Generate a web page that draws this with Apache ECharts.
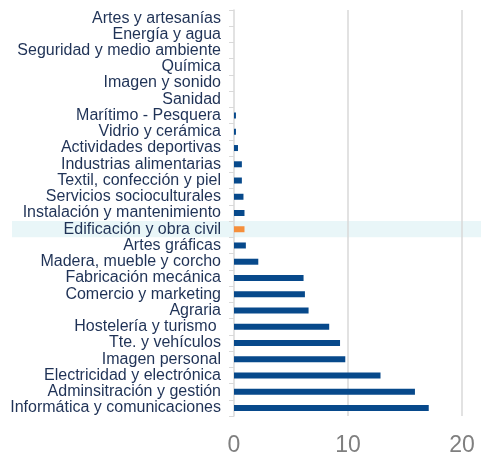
<!DOCTYPE html>
<html>
<head>
<meta charset="utf-8">
<script src="https://cdn.jsdelivr.net/npm/echarts@6/dist/echarts.min.js"></script>
<style>
  html, body { margin: 0; padding: 0; background: #fff; }
  #chart { width: 481px; height: 457px; }
</style>
</head>
<body>
<div id="chart"></div>
<script>
// categories, top to bottom
const familias = [
    "Artes y artesanías",
    "Energía y agua",
    "Seguridad y medio ambiente",
    "Química",
    "Imagen y sonido",
    "Sanidad",
    "Marítimo - Pesquera",
    "Vidrio y cerámica",
    "Actividades deportivas",
    "Industrias alimentarias",
    "Textil, confección y piel",
    "Servicios socioculturales",
    "Instalación y mantenimiento",
    "Edificación y obra civil",
    "Artes gráficas",
    "Madera, mueble y corcho",
    "Fabricación mecánica",
    "Comercio y marketing",
    "Agraria",
    "Hostelería y turismo ",
    "Tte. y vehículos",
    "Imagen personal",
    "Electricidad y electrónica",
    "Adminsitración y gestión",
    "Informática y comunicaciones",
];

const valores = [
    0, 0, 0, 0, 0, 0, 0.17, 0.17, 0.35, 0.69, 0.69, 0.83, 0.92,
    0.92, 1.04, 2.13, 6.1, 6.22, 6.54, 8.35, 9.3, 9.76, 12.85, 15.87, 17.08,
];

const destacada = "Edificación y obra civil";
const xTicks = [0, 10, 20];

const azul = "#07498b";
const naranja = "#f58f3c";

const chart = echarts.init(document.getElementById("chart"));

chart.setOption({
    animation: false,
    grid: { left: 234, right: 0, top: 10, bottom: 39, containLabel: false },
    xAxis: {
        type: "value",
        min: 0,
        max: 21.4,
        interval: 10,
        axisLine: { show: false },
        axisTick: { show: false },
        axisLabel: {
            color: "#7f7f7f",
            fontSize: 23,
            fontFamily: "Liberation Sans",
            margin: 18,
            formatter: (v) => (xTicks.includes(v) ? String(v) : ""),
        },
        splitLine: {
            show: true,
            showMinLine: false,
            showMaxLine: false,
            lineStyle: { color: "#d9d9d9", width: 1.5 },
        },
    },
    yAxis: {
        type: "category",
        inverse: true,
        data: familias,
        axisLine: { show: true, lineStyle: { color: "#d9d9d9", width: 1.5 } },
        axisTick: { show: true, length: 5, lineStyle: { color: "#d9d9d9" } },
        axisLabel: {
            color: "#1f3256",
            fontSize: 16,
            fontFamily: "Liberation Sans",
            margin: 13,
            interval: 0,
        },
    },
    series: [
        {
            type: "bar",
            barWidth: 6,
            z: 3,
            data: valores.map((v, i) => ({
                value: v,
                itemStyle: { color: familias[i] === destacada ? naranja : azul },
            })),
        },
    ],
});

// light band behind the highlighted category, label included
const yc = chart.convertToPixel({ yAxisIndex: 0 }, destacada);
const step = chart.convertToPixel({ yAxisIndex: 0 }, familias[1]) -
    chart.convertToPixel({ yAxisIndex: 0 }, familias[0]);
chart.setOption({
    graphic: [
        {
            type: "rect",
            z: -10,
            silent: true,
            shape: { x: 12, y: yc - step / 2, width: 469, height: step },
            style: { fill: "#e9f6f8" },
        },
    ],
});
</script>
</body>
</html>
